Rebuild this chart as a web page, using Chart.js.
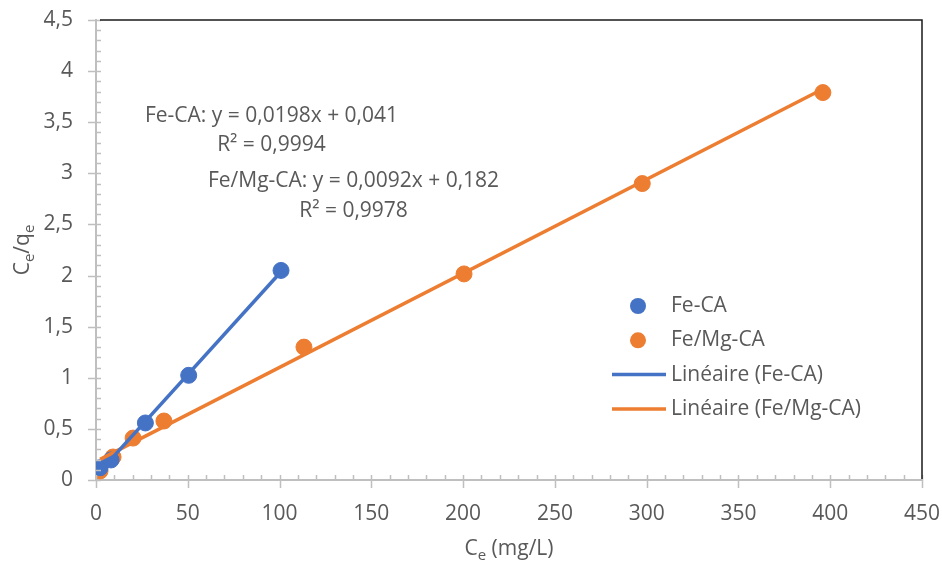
<!DOCTYPE html>
<html>
<head>
<meta charset="utf-8">
<script src="https://cdn.jsdelivr.net/npm/chart.js@4.4.1/dist/chart.umd.min.js"></script>
<style>
  html, body { margin: 0; padding: 0; background: #fff; }
  #wrap { width: 942px; height: 567px; position: relative; }
</style>
</head>
<body>
<div id="wrap"><canvas id="chart"></canvas></div>
<script>
// data
const seriesNames = ['Fe-CA', 'Fe/Mg-CA'];
const feCaX = [2.2, 8.2, 26.9, 50.5, 100.8];
const feCaY = [0.12, 0.196, 0.558, 1.024, 2.05];
const feMgX = [2.2, 9.3, 20.2, 37, 113.3, 200.5, 297.6, 396];
const feMgY = [0.088, 0.225, 0.41, 0.577, 1.3, 2.016, 2.9, 3.79];

// trendlines as printed on the chart
const trendSlopes = [0.0198, 0.0092];
const trendIntercepts = [0.041, 0.182];
const trendLabels = ['Linéaire (Fe-CA)', 'Linéaire (Fe/Mg-CA)'];
const equationTexts = [
  'Fe-CA: y = 0,0198x + 0,041',
  'R² = 0,9994',
  'Fe/Mg-CA: y = 0,0092x + 0,182',
  'R² = 0,9978',
];

const blue = '#4472C4';
const orange = '#ED7D31';
const textColor = '#595959';
const axisGray = '#BFBFBF';
const fontFamily = "'Open Sans', sans-serif";

// where the equation labels sit, in data units
const equationAnchors = [
  { x: 95.6, y: 3.56 },
  { x: 95.6, y: 3.28 },
  { x: 140.3, y: 2.92 },
  { x: 140.3, y: 2.63 },
];

const toPoints = (xs, ys) => xs.map((x, i) => ({ x, y: ys[i] }));
const trendPoints = (xs, k) => {
  const lo = Math.min(...xs);
  const hi = Math.max(...xs);
  return [lo, hi].map((x) => ({ x, y: trendSlopes[k] * x + trendIntercepts[k] }));
};
const comma = (v) => String(Math.round(v * 10) / 10).replace('.', ',');

const drawSub = (ctx, parts, cx, cy) => {
  let total = 0;
  parts.forEach((p) => {
    ctx.font = p.size + 'px ' + fontFamily;
    total += ctx.measureText(p.t).width;
  });
  let xx = cx - total / 2;
  parts.forEach((p) => {
    ctx.font = p.size + 'px ' + fontFamily;
    ctx.fillText(p.t, xx, cy + (p.dy || 0));
    xx += ctx.measureText(p.t).width;
  });
};

const decor = {
  id: 'decor',
  afterDraw(chart) {
    const { ctx, chartArea: a, scales } = chart;
    const x = scales.x;
    const y = scales.y;
    ctx.save();

    // minor + major tick marks
    ctx.strokeStyle = axisGray;
    ctx.lineWidth = 1.5;
    ctx.beginPath();
    for (let v = 0; v <= 450; v += 10) {
      const px = Math.round(x.getPixelForValue(v)) + 0.5;
      const major = v % 50 === 0;
      ctx.moveTo(px, a.bottom - 5);
      ctx.lineTo(px, a.bottom + (major ? 8 : 0));
    }
    for (let i = 0; i <= 45; i++) {
      const py = Math.round(y.getPixelForValue(i / 10)) + 0.5;
      const major = i % 5 === 0;
      ctx.moveTo(a.left + 5, py);
      ctx.lineTo(a.left - (major ? 8 : 0), py);
    }
    ctx.stroke();

    // top and right frame
    ctx.strokeStyle = '#1a1a1a';
    ctx.lineWidth = 1.5;
    ctx.beginPath();
    ctx.moveTo(a.left + 4, a.top);
    ctx.lineTo(a.right, a.top);
    ctx.lineTo(a.right, a.bottom - 1);
    ctx.stroke();

    // axis titles with subscripts
    ctx.fillStyle = textColor;
    ctx.textBaseline = 'alphabetic';
    ctx.textAlign = 'left';
    drawSub(ctx, [
      { t: 'C', size: 21 },
      { t: 'e', size: 15, dy: 5 },
      { t: ' (mg/L)', size: 21 },
    ], (a.left + a.right) / 2, 555);

    ctx.save();
    ctx.translate(29, (a.top + a.bottom) / 2);
    ctx.rotate(-Math.PI / 2);
    drawSub(ctx, [
      { t: 'C', size: 21 },
      { t: 'e', size: 15, dy: 5 },
      { t: '/q', size: 21 },
      { t: 'e', size: 15, dy: 5 },
    ], 0, 0);
    ctx.restore();

    // trendline equations
    ctx.font = '21px ' + fontFamily;
    ctx.textAlign = 'center';
    ctx.textBaseline = 'middle';
    equationTexts.forEach((t, i) => {
      const p = equationAnchors[i];
      ctx.fillText(t, x.getPixelForValue(p.x), y.getPixelForValue(p.y));
    });

    // legend
    const rows = [
      { label: seriesNames[0], color: blue, kind: 'dot' },
      { label: seriesNames[1], color: orange, kind: 'dot' },
      { label: trendLabels[0], color: blue, kind: 'line' },
      { label: trendLabels[1], color: orange, kind: 'line' },
    ];
    ctx.font = '21px ' + fontFamily;
    ctx.textAlign = 'left';
    rows.forEach((r, i) => {
      const ry = 306 + i * 34.3;
      ctx.fillStyle = r.color;
      ctx.strokeStyle = r.color;
      if (r.kind === 'dot') {
        ctx.beginPath();
        ctx.arc(638, ry, 8, 0, Math.PI * 2);
        ctx.fill();
      } else {
        ctx.lineWidth = 3.5;
        ctx.beginPath();
        ctx.moveTo(612, ry);
        ctx.lineTo(666, ry);
        ctx.stroke();
      }
      ctx.fillStyle = textColor;
      ctx.fillText(r.label, 671, ry);
    });

    ctx.restore();
  },
};

Chart.defaults.font.family = fontFamily;
Chart.defaults.font.size = 21;
Chart.defaults.color = textColor;

const ctx = document.getElementById('chart');
new Chart(ctx, {
  type: 'scatter',
  data: {
    datasets: [
      {
        label: seriesNames[0],
        data: toPoints(feCaX, feCaY),
        backgroundColor: blue,
        borderColor: blue,
        pointRadius: 8,
        pointHoverRadius: 8,
        order: 1,
      },
      {
        label: seriesNames[1],
        data: toPoints(feMgX, feMgY),
        backgroundColor: orange,
        borderColor: orange,
        pointRadius: 8,
        pointHoverRadius: 8,
        order: 1,
      },
      {
        label: trendLabels[0],
        data: trendPoints(feCaX, 0),
        showLine: true,
        borderColor: blue,
        borderWidth: 3.5,
        pointRadius: 0,
        order: 0,
      },
      {
        label: trendLabels[1],
        data: trendPoints(feMgX, 1),
        showLine: true,
        borderColor: orange,
        borderWidth: 3.5,
        pointRadius: 0,
        order: 0,
      },
    ],
  },
  options: {
    responsive: true,
    maintainAspectRatio: false,
    animation: false,
    devicePixelRatio: 1,
    layout: { padding: { top: 20, right: 20, left: 0, bottom: 0 } },
    plugins: {
      legend: { display: false },
      tooltip: { enabled: false },
    },
    scales: {
      x: {
        type: 'linear',
        min: 0,
        max: 450,
        grid: { display: false, drawTicks: false },
        border: { display: true, color: axisGray, width: 2 },
        ticks: { stepSize: 50, padding: 21, color: textColor },
        afterFit: (s) => {
          s.height = 87;
          s.paddingLeft = 0;
          s.paddingRight = 0;
        },
      },
      y: {
        type: 'linear',
        min: 0,
        max: 4.5,
        grid: { display: false, drawTicks: false },
        border: { display: true, color: axisGray, width: 2 },
        ticks: { stepSize: 0.5, padding: 23, color: textColor, callback: (v) => comma(v) },
        afterFit: (s) => {
          s.width = 96;
          s.paddingTop = 0;
          s.paddingBottom = 0;
        },
      },
    },
  },
  plugins: [decor],
});
</script>
</body>
</html>
